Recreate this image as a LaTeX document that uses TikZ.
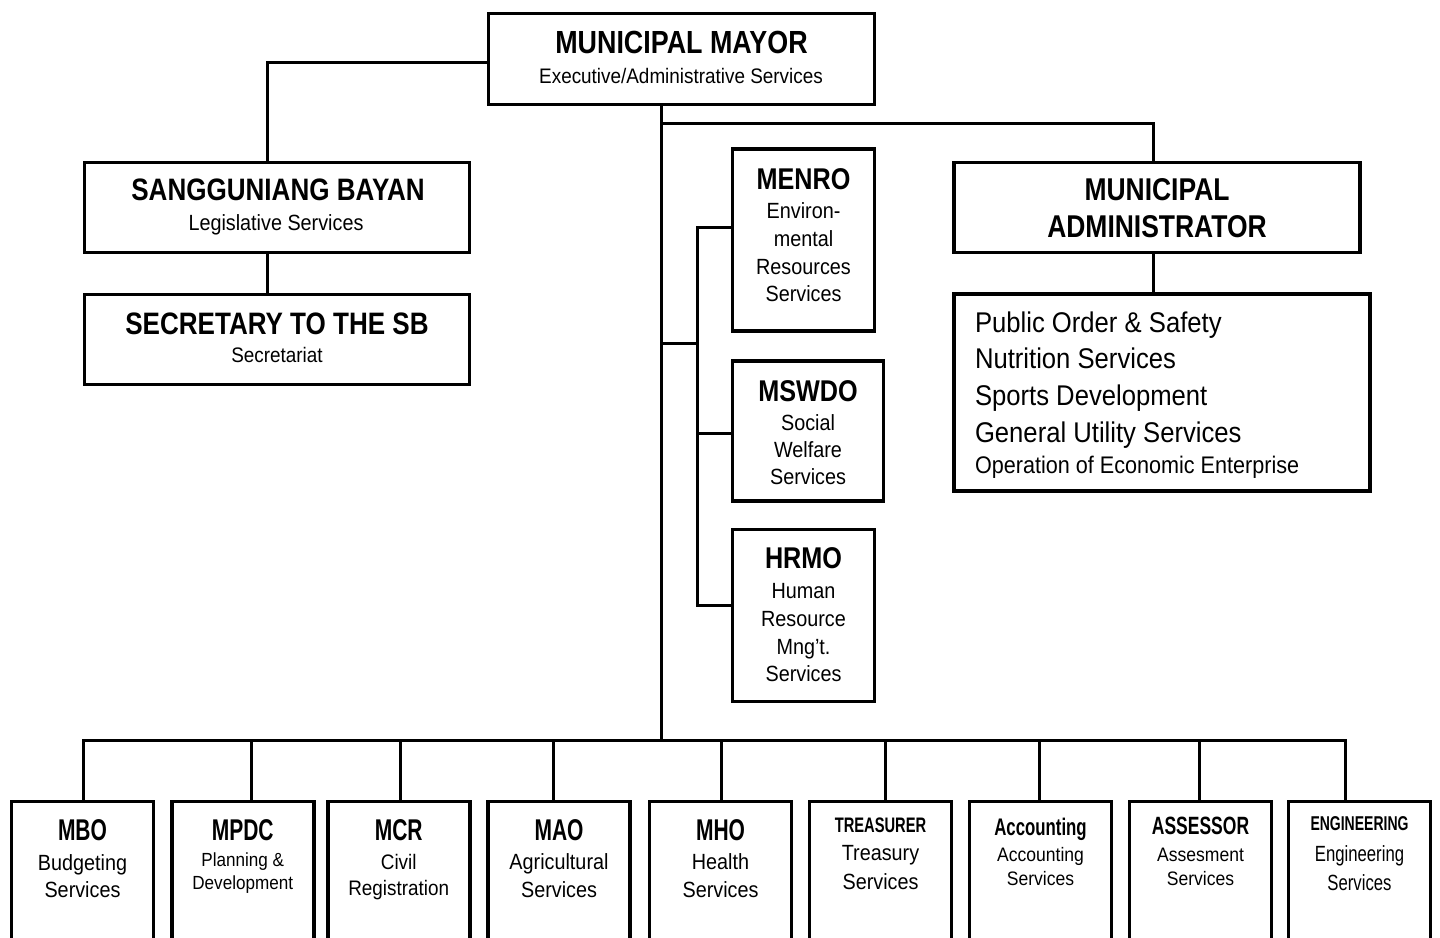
\documentclass[tikz,border=0pt]{standalone}
\usepackage{fontspec}
\setmainfont{Liberation Sans}
\newfontfamily\nbf[FakeStretch=0.84]{Liberation Sans}
\newfontfamily\nrf[FakeStretch=0.90]{Liberation Sans}
\newfontfamily\cdf[FakeStretch=0.70]{Liberation Sans}
\newfontfamily\crf[FakeStretch=0.76]{Liberation Sans}
\newcommand\fs[1]{\fontsize{#1}{#1}\selectfont}
\newcommand\T[5]{\node[txt,font=#4] (#1) at (#2,#3) {#5};}
\newcommand\TL[5]{\node[txtl,font=#4] (#1) at (#2,#3) {#5};}
\begin{document}
\begin{tikzpicture}[x=1pt,y=-1pt,
  box/.style={draw,line width=3.5pt,inner sep=0pt,rectangle},
  conn/.style={line width=3pt,line cap=rect},
  txt/.style={anchor=base,inner sep=0pt,outer sep=0pt},
  txtl/.style={anchor=base west,inner sep=0pt,outer sep=0pt}]
\useasboundingbox (0,0) rectangle (1440,937);
\clip (0,0) rectangle (1440,937);
\fill[white] (0,0) rectangle (1440,937);

% ---------- boxes ----------
\node[box,minimum width=386pt,minimum height=91pt] (mayor) at (681.5,59) {};
\node[box,minimum width=385pt,minimum height=90pt] (sb) at (277,207.5) {};
\node[box,minimum width=385pt,minimum height=90pt] (sec) at (277,339.5) {};
\node[box,minimum width=142pt,minimum height=182pt] (menro) at (803.5,240) {};
\node[box,minimum width=151pt,minimum height=140pt] (mswdo) at (808,431) {};
\node[box,minimum width=142pt,minimum height=172pt] (hrmo) at (803.5,615.5) {};
\node[box,minimum width=406pt,minimum height=90pt] (admin) at (1157,207.5) {};
\node[box,minimum width=416pt,minimum height=197pt] (svc) at (1162,392.5) {};

\foreach \nm/\cx in {mbo/82.5,mpdc/242.75,mcr/398.75,mao/559,mho/720.5,tre/880.5,acc/1040.5,ass/1200.5,eng/1359.5}{
  \node[box,anchor=north,minimum width=142pt,minimum height=180pt] (\nm) at (\cx,799.5) {};
}

% ---------- connectors ----------
\coordinate (tTop) at ([xshift=-20.5pt]mayor.south);
\coordinate (busL) at (83,740);
\coordinate (busR) at (1345,740);
\coordinate (jA) at (661,123);
\coordinate (jM) at (661,343);
\coordinate (jV) at (697,343);

\draw[conn] (tTop) -- (tTop |- busL);
\draw[conn] (busL) -- (busR);
\draw[conn] (jA) -| ([xshift=-4pt]admin.north);
\draw[conn] ([xshift=-4pt]admin.south) -- ([xshift=-4pt]admin.south |- svc.north);
\draw[conn] ([yshift=-3pt]mayor.west) -| ([xshift=-10pt]sb.north);
\draw[conn] ([xshift=-10pt]sb.south) -- ([xshift=-10pt]sec.north);
\draw[conn] (jM) -- (jV);
\draw[conn] ([yshift=13pt]menro.west) -| ([yshift=10.5pt]hrmo.west -| jV) -- ([yshift=10.5pt]hrmo.west);
\draw[conn] ([yshift=-2pt]mswdo.west) -- ([yshift=-2pt]mswdo.west -| jV);

\foreach \nm/\dx in {mbo/0.5,mpdc/8.25,mcr/1.25,mao/-6,mho/0.5,tre/4.5,acc/-1.5,ass/-1.5,eng/-14.5}{
  \draw[conn] ([xshift=\dx pt]\nm.north) -- ([xshift=\dx pt]\nm.north |- busL);
}

% ---------- texts ----------
\T{mayorT}{681.5}{53}{\nbf\bfseries\fs{32}}{MUNICIPAL MAYOR}
\T{mayorS}{681}{83}{\nrf\fs{21}}{Executive/Administrative Services}

\T{sbT}{278}{200}{\nbf\bfseries\fs{31}}{SANGGUNIANG BAYAN}
\T{sbS}{276}{230}{\nrf\fs{22}}{Legislative Services}

\T{secT}{277}{334}{\nbf\bfseries\fs{31}}{SECRETARY TO THE SB}
\T{secS}{277}{362}{\nrf\fs{21}}{Secretariat}

\T{admT1}{1157}{200}{\nbf\bfseries\fs{31.5}}{MUNICIPAL}
\T{admT2}{1157}{237}{\nbf\bfseries\fs{31.5}}{ADMINISTRATOR}

\TL{svc1}{975}{332}{\nrf\fs{28.5}}{Public Order \& Safety}
\TL{svc2}{975}{368}{\nrf\fs{28.5}}{Nutrition Services}
\TL{svc3}{975}{405}{\nrf\fs{28.5}}{Sports Development}
\TL{svc4}{975}{442}{\nrf\fs{28.5}}{General Utility Services}
\TL{svc5}{975}{473}{\nrf\fs{24}}{Operation of Economic Enterprise}

\T{menT}{803.5}{189}{\nbf\bfseries\fs{30}}{MENRO}
\T{men1}{803.5}{218}{\nrf\fs{22}}{Environ-}
\T{men2}{803.5}{246}{\nrf\fs{22}}{mental}
\T{men3}{803.5}{274}{\nrf\fs{22}}{Resources}
\T{men4}{803.5}{301}{\nrf\fs{22}}{Services}

\T{mswT}{808}{401}{\nbf\bfseries\fs{30}}{MSWDO}
\T{msw1}{808}{430}{\nrf\fs{22}}{Social}
\T{msw2}{808}{457}{\nrf\fs{22}}{Welfare}
\T{msw3}{808}{484}{\nrf\fs{22}}{Services}

\T{hrT}{803.5}{568}{\nbf\bfseries\fs{30}}{HRMO}
\T{hr1}{803.5}{598}{\nrf\fs{22}}{Human}
\T{hr2}{803.5}{626}{\nrf\fs{22}}{Resource}
\T{hr3}{803.5}{654}{\nrf\fs{22}}{Mng’t.}
\T{hr4}{803.5}{681}{\nrf\fs{22}}{Services}

\T{mboT}{82.5}{840}{\cdf\bfseries\fs{30}}{MBO}
\T{mbo1}{82.5}{870}{\nrf\fs{22}}{Budgeting}
\T{mbo2}{82.5}{897}{\nrf\fs{22}}{Services}

\T{mpdcT}{242.75}{840}{\cdf\bfseries\fs{30}}{MPDC}
\T{mpdc1}{242.75}{866}{\nrf\fs{19}}{Planning \&}
\T{mpdc2}{242.75}{889}{\nrf\fs{19}}{Development}

\T{mcrT}{398.75}{840}{\cdf\bfseries\fs{30}}{MCR}
\T{mcr1}{398.75}{869}{\nrf\fs{21}}{Civil}
\T{mcr2}{398.75}{895}{\nrf\fs{21}}{Registration}

\T{maoT}{559}{840}{\cdf\bfseries\fs{30}}{MAO}
\T{mao1}{559}{869}{\nrf\fs{22}}{Agricultural}
\T{mao2}{559}{897}{\nrf\fs{22}}{Services}

\T{mhoT}{720.5}{840}{\cdf\bfseries\fs{30}}{MHO}
\T{mho1}{720.5}{869}{\nrf\fs{22}}{Health}
\T{mho2}{720.5}{897}{\nrf\fs{22}}{Services}

\T{treT}{880.5}{832}{\cdf\bfseries\fs{21}}{TREASURER}
\T{tre1}{880.5}{860}{\nrf\fs{22}}{Treasury}
\T{tre2}{880.5}{889}{\nrf\fs{22}}{Services}

\T{accT}{1040.5}{835}{\cdf\bfseries\fs{24}}{Accounting}
\T{acc1}{1040.5}{861}{\nrf\fs{19.5}}{Accounting}
\T{acc2}{1040.5}{885}{\nrf\fs{19.5}}{Services}

\T{assT}{1200.5}{834}{\cdf\bfseries\fs{25}}{ASSESSOR}
\T{ass1}{1200.5}{861}{\nrf\fs{19.5}}{Assesment}
\T{ass2}{1200.5}{885}{\nrf\fs{19.5}}{Services}

\T{engT}{1359.5}{830}{\cdf\bfseries\fs{20}}{ENGINEERING}
\T{eng1}{1359.5}{861}{\crf\fs{22}}{Engineering}
\T{eng2}{1359.5}{890}{\crf\fs{22}}{Services}
\end{tikzpicture}
\end{document}
